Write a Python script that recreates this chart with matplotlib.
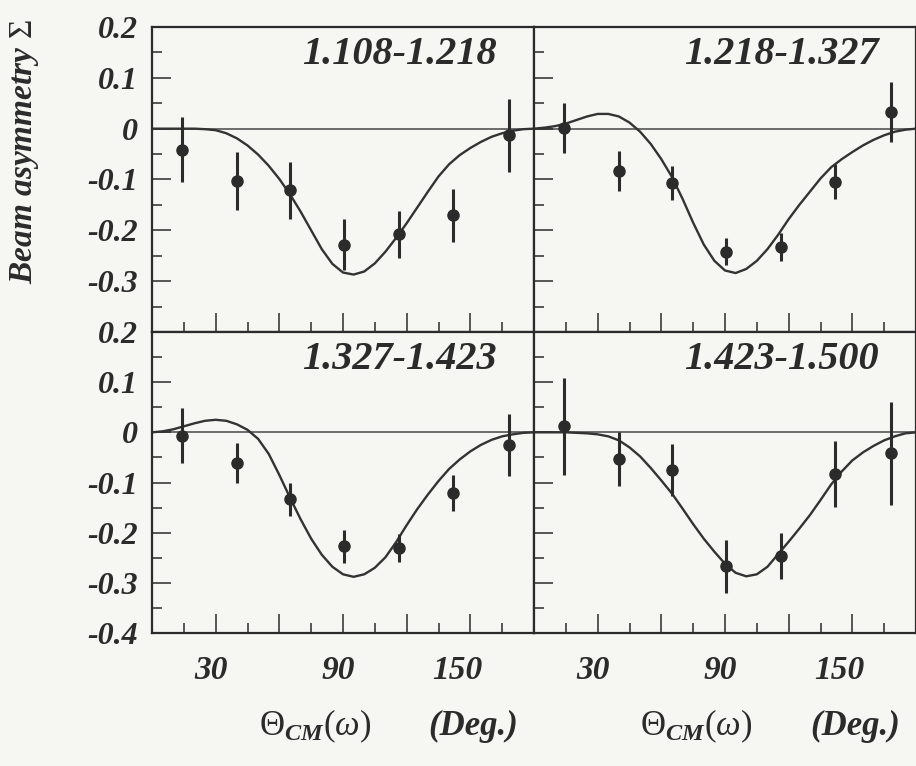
import numpy as np
import matplotlib.pyplot as plt
from matplotlib.transforms import blended_transform_factory, ScaledTranslation

plt.rcParams['font.family'] = ['Liberation Serif', 'DejaVu Serif']
plt.rcParams['mathtext.fontset'] = 'custom'
plt.rcParams['mathtext.rm'] = 'Liberation Serif'
plt.rcParams['mathtext.it'] = 'Liberation Serif:italic'
plt.rcParams['mathtext.bf'] = 'Liberation Serif:bold:italic'

paper = '#f6f6f3'
ink = '#2b2b2b'

# photon energy bins (GeV)
bin_labels = ['1.108-1.218', '1.218-1.327', '1.327-1.423', '1.423-1.500']

# angular bin centres (deg)
theta = [14, 40, 65, 90.5, 116.5, 142, 168]

# measured beam asymmetry and errors per energy bin
sigma_1 = [-0.041, -0.103, -0.121, -0.228, -0.208, -0.170, -0.013]
err_1 = [0.063, 0.057, 0.056, 0.051, 0.047, 0.052, 0.072]
sigma_2 = [0.001, -0.083, -0.107, -0.242, -0.233, -0.104, 0.033]
err_2 = [0.049, 0.040, 0.033, 0.027, 0.028, 0.035, 0.059]
sigma_3 = [-0.007, -0.061, -0.133, -0.227, -0.230, -0.121, -0.025]
err_3 = [0.055, 0.040, 0.033, 0.033, 0.028, 0.036, 0.062]
sigma_4 = [0.012, -0.053, -0.075, -0.267, -0.247, -0.083, -0.042]
err_4 = [0.097, 0.053, 0.052, 0.053, 0.046, 0.065, 0.102]

# fitted curves, sampled every 5 deg from 0 to 180
theta_fit = list(range(0, 181, 5))
fit_1 = [0, 0, 0, 0, 0, -0.001, -0.003, -0.009, -0.019, -0.033, -0.051, -0.073,
         -0.099, -0.129, -0.163, -0.200, -0.237, -0.266, -0.283, -0.287, -0.281,
         -0.265, -0.242, -0.215, -0.186, -0.155, -0.124, -0.094, -0.070, -0.052,
         -0.038, -0.026, -0.016, -0.009, -0.004, -0.001, 0]
fit_2 = [0, 0.002, 0.005, 0.010, 0.017, 0.024, 0.029, 0.029, 0.024, 0.012, -0.006,
         -0.030, -0.060, -0.095, -0.138, -0.185, -0.228, -0.260, -0.279, -0.284,
         -0.276, -0.260, -0.237, -0.209, -0.178, -0.150, -0.124, -0.098, -0.076,
         -0.060, -0.046, -0.033, -0.022, -0.013, -0.006, -0.002, 0]
fit_3 = [0, 0.002, 0.006, 0.012, 0.018, 0.023, 0.025, 0.023, 0.016, 0.005, -0.013,
         -0.043, -0.085, -0.130, -0.173, -0.212, -0.244, -0.268, -0.283, -0.288,
         -0.283, -0.270, -0.249, -0.219, -0.185, -0.153, -0.124, -0.097, -0.073,
         -0.054, -0.038, -0.025, -0.015, -0.008, -0.004, -0.001, 0]
fit_4 = [0, 0, 0, 0, -0.001, -0.002, -0.004, -0.008, -0.016, -0.030, -0.048, -0.071,
         -0.096, -0.122, -0.152, -0.183, -0.212, -0.238, -0.262, -0.280, -0.287,
         -0.283, -0.268, -0.243, -0.218, -0.192, -0.165, -0.135, -0.104, -0.078,
         -0.056, -0.040, -0.027, -0.016, -0.008, -0.002, 0]

y_ticks = [0.2, 0.1, 0, -0.1, -0.2, -0.3, -0.4]
y_tick_labels = ['0.2', '0.1', '0', '-0.1', '-0.2', '-0.3', '-0.4']
x_tick_labels = [30, 90, 150]

panels = [
    (sigma_1, err_1, fit_1),
    (sigma_2, err_2, fit_2),
    (sigma_3, err_3, fit_3),
    (sigma_4, err_4, fit_4),
]

fig = plt.figure(figsize=(9.16, 7.66), dpi=100)
fig.patch.set_facecolor(paper)

W, H = 916, 766
col_x = [152, 534]
col_w = 382
row_y = [(27, 332), (332, 633)]

bold_it = dict(fontweight='bold', style='italic', color=ink)

axes = []
for i, (sig, err, fit) in enumerate(panels):
    r, c = divmod(i, 2)
    top, bot = row_y[r]
    ax = fig.add_axes([col_x[c] / W, 1 - bot / H, col_w / W, (bot - top) / H])
    ax.set_facecolor(paper)
    ax.set_xlim(0, 180)
    ax.set_ylim(-0.4, 0.2)

    ax.axhline(0, color='#555555', lw=1.2, zorder=1)
    ax.plot(theta_fit, fit, color='#333333', lw=1.7, zorder=2)
    ax.errorbar(theta, sig, yerr=err, fmt='o', ms=8, color=ink, mec=ink,
                elinewidth=2.2, capsize=0, zorder=3)

    ax.text(0.903, 0.91, bin_labels[i], transform=ax.transAxes, ha='right',
            va='center', fontsize=29, **bold_it)

    ax.set_xticks([30, 60, 90, 120, 150])
    ax.set_xticks([15, 45, 75, 105, 135, 165], minor=True)
    ax.set_xticklabels([])
    ax.set_yticks([-0.35, -0.25, -0.15, -0.05, 0.05, 0.15], minor=True)
    if c == 0:
        labels = list(y_tick_labels)
        if r == 0:
            labels[-1] = ''
        ax.set_yticks(y_ticks, labels)
        for t in ax.get_yticklabels():
            t.set_fontsize(23)
            t.set_fontweight('bold')
            t.set_fontstyle('italic')
            t.set_color(ink)
    else:
        ax.set_yticks(y_ticks)
        ax.set_yticklabels([])

    ax.tick_params(which='both', direction='in', top=False, right=False,
                   colors=ink, width=1.1, pad=10)
    ax.tick_params(which='major', length=14)
    ax.tick_params(which='minor', length=7)
    for sp in ax.spines.values():
        sp.set_color(ink)
        sp.set_linewidth(1.6)
    axes.append(ax)

# x tick labels sit just left of their ticks
shift = ScaledTranslation(0.12, 0, fig.dpi_scale_trans)
for ax in axes[2:]:
    trans = blended_transform_factory(ax.transData, ax.transAxes) + shift
    for v in x_tick_labels:
        ax.text(v, -0.126, str(v), transform=trans, ha='right', va='center',
                fontsize=24, **bold_it)

fig.text(25 / W, 1 - 152 / H, 'Beam asymmetry $\\mathrm{\\Sigma}$', rotation=90,
         ha='center', va='center', fontsize=24, **bold_it)

for x_theta, x_deg in [(259, 428), (640, 810)]:
    fig.text(x_theta / W, 1 - 735 / H, r'$\Theta_{\mathbf{CM}}(\omega)$',
             ha='left', va='baseline', fontsize=25, color=ink)
    fig.text(x_deg / W, 1 - 735 / H, '(Deg.)', ha='left', va='baseline',
             fontsize=25, **bold_it)

fig.savefig('out.png', dpi=100, facecolor=paper)
